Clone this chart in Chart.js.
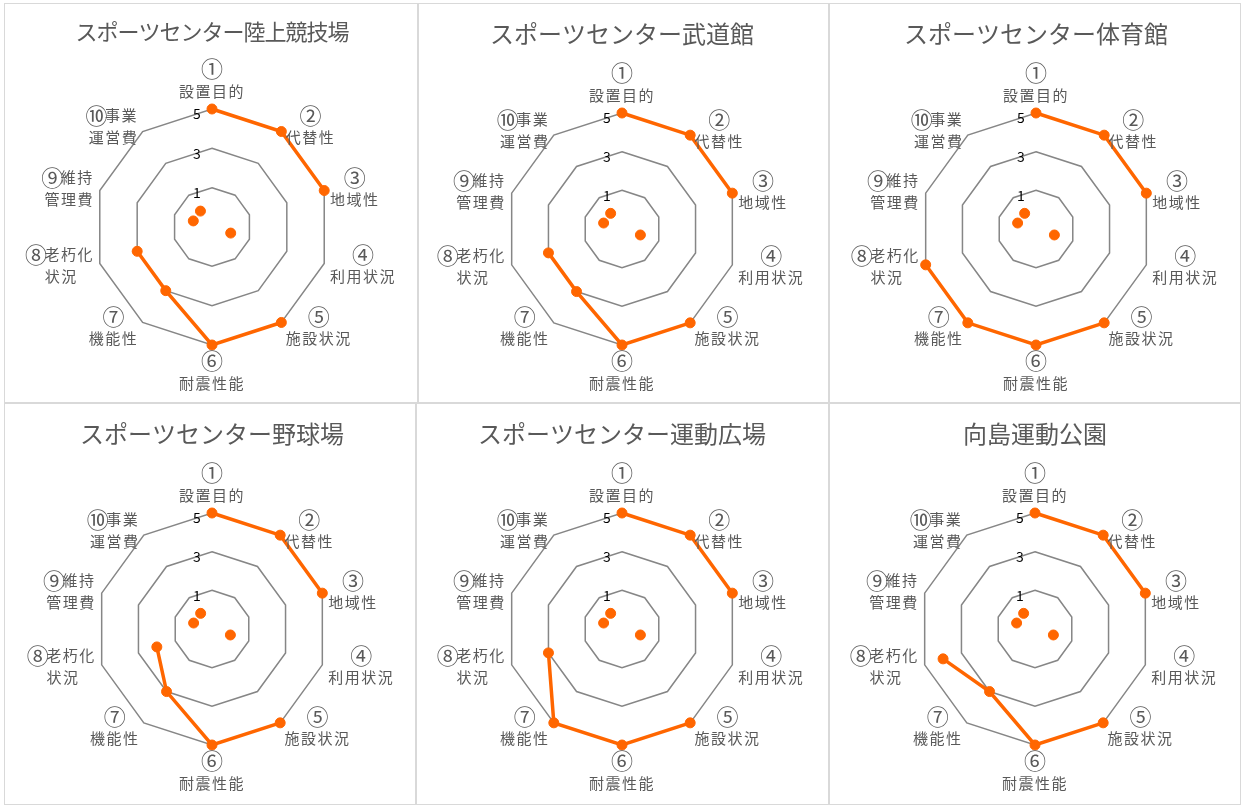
<!DOCTYPE html>
<html>
<head>
<meta charset="utf-8">
<script src="https://cdn.jsdelivr.net/npm/chart.js@4.4.1/dist/chart.umd.min.js"></script>
<style>
body { margin: 0; background: #fff; }
#wrap { position: relative; width: 1245px; height: 805px; overflow: hidden; }
.panel { position: absolute; border: 1px solid #d9d9d9; box-sizing: border-box; }
#wrap canvas { position: absolute; }
</style>
</head>
<body>
<div id="wrap"></div>
<script>
// 評価項目
const axisLabels = [
    ['①', '設置目的'],
    ['②', '代替性'],
    ['③', '地域性'],
    ['④', '利用状況'],
    ['⑤', '施設状況'],
    ['⑥', '耐震性能'],
    ['⑦', '機能性'],
    ['⑧老朽化', '状況'],
    ['⑨維持', '管理費'],
    ['⑩事業', '運営費']
];
const tickValues = [1, 3, 5];

const titles = [
    'スポーツセンター陸上競技場',
    'スポーツセンター武道館',
    'スポーツセンター体育館',
    'スポーツセンター野球場',
    'スポーツセンター運動広場',
    '向島運動公園'
];

// 各施設の評価点
const rikujo     = [5, 5, 5, 0, 5, 5, 3, 3, 0, 0];
const budokan    = [5, 5, 5, 0, 5, 5, 3, 3, 0, 0];
const taiikukan  = [5, 5, 5, 0, 5, 5, 5, 5, 0, 0];
const yakyujo    = [5, 5, 5, 0, 5, 5, 3, 2, 0, 0];
const undohiroba = [5, 5, 5, 0, 5, 5, 5, 3, 0, 0];
const mukaijima  = [5, 5, 5, 0, 5, 5, 3, 4, 0, 0];
const scores = [rikujo, budokan, taiikukan, yakyujo, undohiroba, mukaijima];

// パネル配置 (x, y, w, h) と中心・半径
const panels = [
    { x: 4,   y: 3,   w: 414, h: 400, cx: 212.3,  cy: 227.2, r: 118.8, tsize: 22, tspace: -1 },
    { x: 418, y: 3,   w: 411, h: 400, cx: 622,    cy: 229,   r: 116,   tsize: 24, tspace: 0 },
    { x: 829, y: 3,   w: 412, h: 400, cx: 1036,   cy: 229.7, r: 116.3, tsize: 24, tspace: 0 },
    { x: 4,   y: 403, w: 412, h: 402, cx: 212,    cy: 629.3, r: 116.3, tsize: 24, tspace: 0 },
    { x: 416, y: 403, w: 413, h: 402, cx: 622,    cy: 629,   r: 116,   tsize: 24, tspace: 0 },
    { x: 829, y: 403, w: 412, h: 402, cx: 1035.7, cy: 629.3, r: 116.3, tsize: 24, tspace: 0 }
];

const ORANGE = '#ff6600';
const TEXT = '#595959';
const FONT = '"Noto Sans CJK JP", "Noto Sans", sans-serif';
const LABEL = '15px ' + FONT;
const CIRC = '22px ' + FONT;   // 丸数字は大きめに
const CW = 15;                 // 丸数字の見た目の幅
const LINE = 22;
const CIRCLED = /^[\u2460-\u2473]/;

function labelWidth(ctx, text) {
    const m = text.match(CIRCLED);
    ctx.font = LABEL;
    ctx.letterSpacing = '1.5px';
    if (!m) return ctx.measureText(text).width;
    const rest = text.slice(1);
    return CW + (rest ? 1 + ctx.measureText(rest).width : 0);
}

function drawLabelLine(ctx, text, cx, y) {
    const m = text.match(CIRCLED);
    const total = labelWidth(ctx, text);
    if (!m) {
        ctx.textAlign = 'center';
        ctx.fillText(text, cx, y);
        return;
    }
    const left = cx - total / 2;
    const rest = text.slice(1);
    ctx.font = CIRC;
    ctx.letterSpacing = '0px';
    ctx.textAlign = 'center';
    ctx.fillText(m[0], left + CW / 2, y);
    if (rest) {
        ctx.font = LABEL;
        ctx.letterSpacing = '1.5px';
        ctx.textAlign = 'left';
        ctx.fillText(rest, left + CW + 1, y);
    }
}

// タイトル・目盛り・項目名を描くプラグイン
const radarText = {
    id: 'radarText',
    beforeDatasetsDraw(chart) {
        const ctx = chart.ctx;
        const scale = chart.scales.r;
        ctx.save();
        ctx.font = '14px ' + FONT;
        ctx.fillStyle = '#000';
        ctx.textAlign = 'center';
        ctx.textBaseline = 'middle';
        tickValues.forEach(t => {
            const p = scale.getPointPositionForValue(0, t);
            ctx.fillText(String(t), p.x - 15, p.y + 5);
        });
        ctx.restore();
    },
    afterDraw(chart, args, opts) {
        const ctx = chart.ctx;
        const scale = chart.scales.r;
        ctx.save();
        ctx.fillStyle = TEXT;
        ctx.textAlign = 'center';
        ctx.textBaseline = 'middle';

        ctx.font = opts.tsize + 'px ' + FONT;
        ctx.letterSpacing = opts.tspace + 'px';
        ctx.fillText(opts.title, scale.xCenter, scale.yCenter - 195);

        axisLabels.forEach((lines, i) => {
            const v = scale.getPointPositionForValue(i, scale.max);
            const ang = scale.getIndexAngle(i);
            const s = Math.sin(ang), c = Math.cos(ang);
            const w = Math.max(...lines.map(t => labelWidth(ctx, t)));
            let x, y0;
            if (Math.abs(s) < 0.01) {
                x = v.x;
                y0 = c > 0 ? v.y - 18 - LINE * (lines.length - 1) : v.y + 16;
            } else {
                const gap = 2 + 4 * Math.abs(s);
                x = s > 0 ? v.x + gap + w / 2 : v.x - gap - w / 2;
                y0 = v.y - c * 6 - LINE * (lines.length - 1) / 2;
            }
            lines.forEach((t, k) => drawLabelLine(ctx, t, x, y0 + k * LINE));
        });
        ctx.restore();
    }
};

const wrap = document.getElementById('wrap');

panels.forEach((pn, idx) => {
    const box = document.createElement('div');
    box.className = 'panel';
    box.style.left = pn.x + 'px';
    box.style.top = pn.y + 'px';
    box.style.width = pn.w + 'px';
    box.style.height = pn.h + 'px';
    wrap.appendChild(box);

    const cv = document.createElement('canvas');
    cv.width = pn.w;
    cv.height = pn.h;
    cv.style.left = pn.x + 'px';
    cv.style.top = pn.y + 'px';
    wrap.appendChild(cv);

    const vals = scores[idx];
    // 0点の項目は線でつながず、点だけ表示する
    const lineVals = vals.map(v => v === 0 ? null : v);
    const zeroVals = vals.map(v => v === 0 ? 0 : null);

    const common = {
        borderColor: ORANGE,
        backgroundColor: ORANGE,
        pointRadius: 5,
        pointBorderWidth: 1,
        pointBackgroundColor: ORANGE,
        pointBorderColor: ORANGE,
        fill: false
    };

    new Chart(cv.getContext('2d'), {
        type: 'radar',
        data: {
            labels: axisLabels,
            datasets: [
                Object.assign({ data: lineVals, borderWidth: 3.5, spanGaps: false }, common),
                Object.assign({ data: zeroVals, borderWidth: 0, showLine: false }, common)
            ]
        },
        options: {
            responsive: false,
            animation: false,
            layout: {
                padding: {
                    left: pn.cx - pn.r - pn.x,
                    top: pn.cy - pn.r - pn.y,
                    right: pn.x + pn.w - (pn.cx + pn.r),
                    bottom: pn.y + pn.h - (pn.cy + pn.r)
                }
            },
            scales: {
                r: {
                    min: -1,
                    max: 5,
                    ticks: { stepSize: 2, display: false },
                    angleLines: { display: false },
                    grid: { color: '#868686', lineWidth: 1.5 },
                    pointLabels: { display: false }
                }
            },
            plugins: {
                legend: { display: false },
                tooltip: { enabled: false },
                radarText: { title: titles[idx], tsize: pn.tsize, tspace: pn.tspace }
            }
        },
        plugins: [radarText]
    });
});
</script>
</body>
</html>
